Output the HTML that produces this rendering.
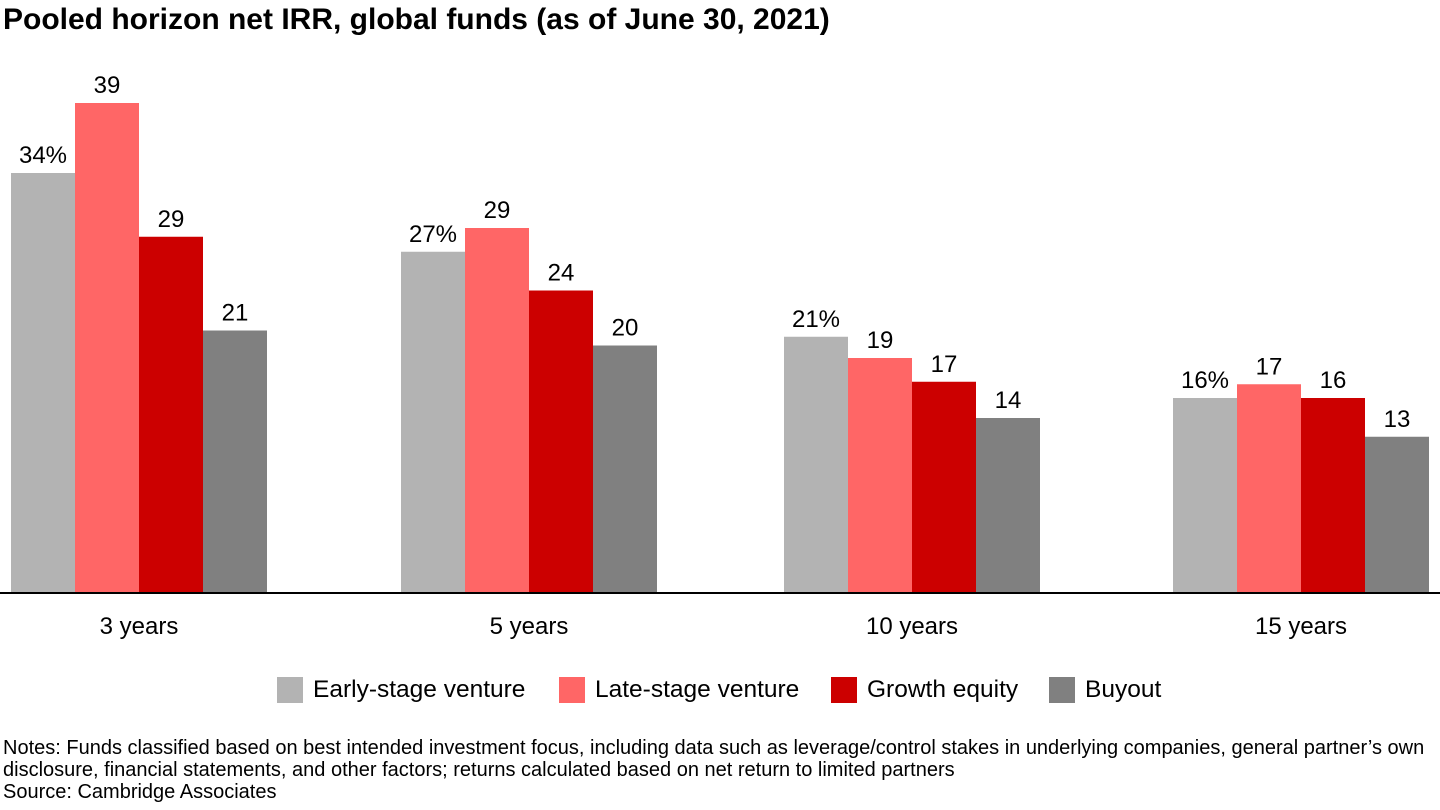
<!DOCTYPE html>
<html><head><meta charset="utf-8"><style>
body{margin:0;background:#fff;font-family:"Liberation Sans",Arial,sans-serif;}
#wrap{position:relative;width:1440px;height:810px;overflow:hidden;}
.t{position:absolute;white-space:nowrap;color:#000;}
</style></head><body>
<div id="wrap">
<div class="t" style="left:3px;top:3px;font-size:30px;font-weight:bold;">Pooled horizon net IRR, global funds (as of June 30, 2021)</div>
<svg id="chart" width="1440" height="660" style="position:absolute;left:0;top:0"></svg>
<div class="t" style="left:3px;top:737px;font-size:20px;line-height:22px;">Notes: Funds classified based on best intended investment focus, including data such as leverage/control stakes in underlying companies, general partner’s own<br>disclosure, financial statements, and other factors; returns calculated based on net return to limited partners<br>Source: Cambridge Associates</div>
</div>
<script>
const categories=["3 years","5 years","10 years","15 years"];
const seriesNames=["Early-stage venture","Late-stage venture","Growth equity","Buyout"];
const early=[33.6,27.3,20.5,15.6];
const late=[39.2,29.2,18.8,16.7];
const growth=[28.5,24.2,16.9,15.6];
const buyout=[21.0,19.8,14.0,12.5];
const series=[early,late,growth,buyout];
const colors=["#b3b3b3","#ff6666","#cc0000","#808080"];
const NS="http://www.w3.org/2000/svg";
const svg=document.getElementById('chart');
const base=593, k=12.5, barW=64;
const groupLeft=[11,401,784,1173];
function y(v){return base-v*k;}
function mk(t,a){const e=document.createElementNS(NS,t);for(const n in a)e.setAttribute(n,a[n]);svg.appendChild(e);return e;}
categories.forEach((c,i)=>{
  series.forEach((s,j)=>{
    const x=groupLeft[i]+j*barW;
    const r=mk('rect',{x:x,y:y(s[i]),width:barW,height:s[i]*k,fill:colors[j]});
    
    
    const t=mk('text',{x:x+barW/2,y:y(s[i])-10,'text-anchor':'middle','font-size':24,'font-family':'Liberation Sans, Arial, sans-serif'});
    t.textContent=Math.round(s[i])+(j===0?'%':'');
    
    
  });
  const l=mk('text',{x:groupLeft[i]+2*barW,y:634,'text-anchor':'middle','font-size':24,'font-family':'Liberation Sans, Arial, sans-serif'});
  l.textContent=c;
  
  
});
const ax=mk('line',{x1:0,x2:1440,y1:base,y2:base,stroke:'#000','stroke-width':2});


const legX=[277,559,831,1049];
const wrap=document.getElementById('wrap');
seriesNames.forEach((n,j)=>{
  const d=document.createElement('div');
  
  
  d.style.cssText='position:absolute;left:'+legX[j]+'px;top:677px;height:26px;display:flex;align-items:center;font-size:24.5px;white-space:nowrap;';
  d.innerHTML='<span style="display:inline-block;width:26px;height:26px;background:'+colors[j]+';margin-right:10px"></span>'+n;
  wrap.appendChild(d);
});
</script>
</body></html>
